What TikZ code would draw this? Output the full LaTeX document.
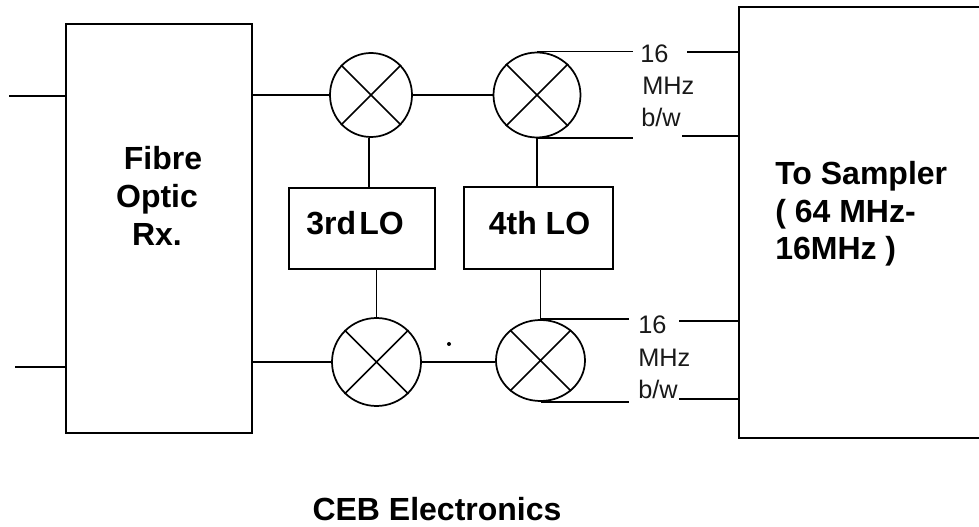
\documentclass[tikz,border=0pt]{standalone}
\usepackage{fontspec}
\setmainfont{Liberation Sans}
\usetikzlibrary{shapes.geometric}
\tikzset{
  wire/.style={black,line width=1.3pt},
  boxn/.style={draw=black,line width=1.2pt,inner sep=0pt,anchor=north west},
  mixn/.style 2 args={draw=black,line width=1.3pt,ellipse,minimum width=#1*0.75pt,minimum height=#2*0.75pt,inner sep=0pt},
  boldlab/.style={font=\fontsize{24}{28.2}\selectfont\bfseries,inner sep=0pt},
  smalllab/.style={font=\fontsize{19}{22}\selectfont,text=black!90,inner sep=0pt,anchor=base west}
}
\newcommand{\crossin}[1]{\draw[wire] (#1.45) -- (#1.225) (#1.135) -- (#1.315);}
\begin{document}
\begin{tikzpicture}[x=0.75pt,y=-0.75pt]
\useasboundingbox (0,0) rectangle (979,527);
\node[boxn,minimum width=139.5pt,minimum height=306.75pt] (rx) at (65,23) {};
\node[boxn,minimum width=200pt,minimum height=323.25pt] (samp) at (738,6) {};
\node[boxn,minimum width=109.5pt,minimum height=60.75pt] (lo3) at (288,187) {};
\node[boxn,minimum width=111.75pt,minimum height=61.5pt] (lo4) at (463,186) {};
\node[mixn={82}{84}] (m1) at (371,95) {};
\node[mixn={87}{85}] (m2) at (537,95) {};
\node[mixn={89}{88}] (m3) at (376.5,362) {};
\node[mixn={89}{81}] (m4) at (540.5,360.5) {};
\crossin{m1}\crossin{m2}\crossin{m3}\crossin{m4}
\coordinate (inA) at (9,96);
\coordinate (inB) at (15,367);
\draw[wire] (inA) -- (inA -| rx.west);
\draw[wire] (inB) -- (inB -| rx.west);
\draw[wire] (m1.west -| rx.east) -- (m1.west);
\draw[wire] (m3.west -| rx.east) -- (m3.west);
\draw[wire] (m1.east) -- (m1.east -| m2.west);
\draw[wire] (m3.east) -- (m3.east -| m4.west);
\draw[wire] (m1.south -| 369,0) -- (369,0 |- lo3.north);
\draw[wire] (m3.north) -- (m3.north |- lo3.south);
\draw[wire] (m2.south) -- (m2.south |- lo4.north);
\draw[wire] (m4.north) -- (m4.north |- lo4.south);
\node[boldlab,align=center,anchor=center] (t1) at (157,196) {\hspace*{9pt}Fibre\\Optic\\Rx.};
\node[boldlab,anchor=base] (t3) at (355,235) {3rd\hspace{0.1em}LO};
\node[boldlab,anchor=base] (t4) at (539.5,235) {4th LO};
\node[boldlab,align=left,anchor=west] (t5) at (775,214) {To Sampler\\( 64 MHz-\\16MHz )};
\node[boldlab,anchor=base] (t6) at (437,520) {CEB Electronics};
\node[smalllab] (a1) at (640,63) {16};
\node[smalllab] (a2) at (642,95) {MHz};
\node[smalllab] (a3) at (641,127) {b/w};
\node[smalllab] (b1) at (638,334) {16};
\node[smalllab] (b2) at (638,367) {MHz};
\node[smalllab] (b3) at (638,399) {b/w};
\coordinate (a1l) at (633,52);
\coordinate (a1r) at (687,52);
\coordinate (a3l) at (633,137);
\coordinate (a3r) at (682,136);
\coordinate (b1l) at (629,322);
\coordinate (b1r) at (679,321);
\coordinate (b3l) at (629,402);
\coordinate (b3r) at (679,399);
\draw[wire] (m2.north) -- (m2.north -| a1l);
\draw[wire] (a1r) -- (a1r -| samp.west);
\draw[wire] (m2.south) -- (m2.south -| a3l);
\draw[wire] (a3r) -- (a3r -| samp.west);
\draw[wire] (m4.north) -- (m4.north -| b1l);
\draw[wire] (b1r) -- (b1r -| samp.west);
\draw[wire] (m4.south) -- (m4.south -| b3l);
\draw[wire] (b3r) -- (b3r -| samp.west);
\node[circle,fill=black,inner sep=0pt,minimum size=3pt] (dot) at (449,344) {};
\end{tikzpicture}
\end{document}
